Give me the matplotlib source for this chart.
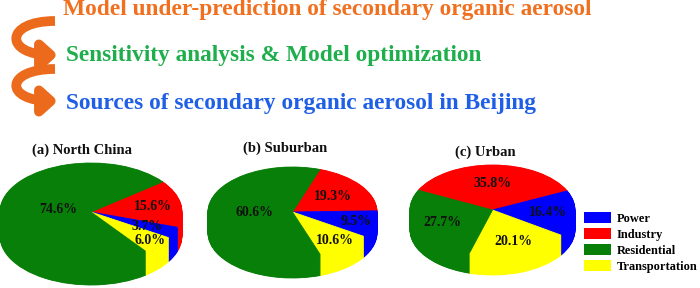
import matplotlib
matplotlib.use("Agg")
import matplotlib.pyplot as plt
from matplotlib.patches import FancyArrowPatch, Patch
from matplotlib.path import Path
import numpy as np

# ---------------- data ----------------
sectors = ["Industry", "Power", "Transportation", "Residential"]
sector_colors = ["#ff0000", "#0000ff", "#ffff00", "#087f08"]
legend_order = ["Power", "Industry", "Residential", "Transportation"]

panel_titles = ["(a) North China", "(b) Suburban", "(c) Urban"]
north_china = [15.6, 3.7, 6.0, 74.6]
suburban = [19.3, 9.5, 10.6, 60.6]
urban = [35.8, 16.4, 20.1, 27.7]

headlines = ["Model under-prediction of secondary organic aerosol",
             "Sensitivity analysis & Model optimization",
             "Sources of secondary organic aerosol in Beijing"]
headline_colors = ["#f07020", "#1fae4c", "#1f5fe6"]

# ---------------- layout ----------------
W, H = 700, 288
fig = plt.figure(figsize=(W / 100, H / 100), dpi=100)
fig.patch.set_facecolor("white")
SERIF = ["Liberation Serif", "DejaVu Serif"]

# overlay axes in pixel coordinates for header & arrows
ov = fig.add_axes([0, 0, 1, 1])
ov.set_xlim(0, W)
ov.set_ylim(H, 0)
ov.axis("off")

head_y = [10, 56, 104]
head_x = [63, 66, 66]
for txt, c, x, y in zip(headlines, headline_colors, head_x, head_y):
    ov.text(x, y, txt, color=c, fontsize=16.8, fontweight="bold",
            family=SERIF, va="center", ha="left")

arrow_color = "#ec6a1c"
for y0, y1 in [(21, 55), (69, 101)]:
    verts = [(55, y0), (4, y0), (4, y1), (58, y1)]
    codes = [Path.MOVETO, Path.CURVE4, Path.CURVE4, Path.CURVE4]
    arr = FancyArrowPatch(path=Path(verts, codes),
                          arrowstyle="-|>,head_length=0.5,head_width=0.45",
                          mutation_scale=17, lw=7, color=arrow_color,
                          capstyle="butt")
    ov.add_patch(arr)

# ---------------- pies ----------------
specs = [
    # cx, cy, rx, ry, depth, startangle, label radial factors, title xy
    (91, 212, 91, 49, 24, 38, [0.69, 0.68, 0.87, 0.36], (32, 150)),
    (292.5, 212, 84.5, 45, 21, 71, [0.60, 0.78, 0.82, 0.45], (243, 148)),
    (492.5, 210, 82.5, 45, 20, 154, [0.60, 0.67, 0.75, 0.66], (455, 152)),
]
datasets = [north_china, suburban, urban]

for vals, title, (cx, cy, rx, ry, depth, start, rfac, txy) in zip(datasets, panel_titles, specs):
    left = cx - rx
    top = cy - ry
    hgt = 2 * ry + depth
    ax = fig.add_axes([left / W, (H - (top + hgt)) / H, 2 * rx / W, hgt / H])
    d = depth / ry
    nlayers = 40
    for k in range(nlayers):
        off = -d * (1 - k / (nlayers - 1))
        wedges, _ = ax.pie(vals, colors=sector_colors, startangle=start,
                           counterclock=False, center=(0, off), radius=1,
                           wedgeprops=dict(linewidth=0.6))
        for w, c in zip(wedges, sector_colors):
            w.set_edgecolor(c)
    ax.set_aspect("auto")
    ax.set_xlim(-1, 1)
    ax.set_ylim(-1 - d, 1)
    ax.axis("off")
    for w, v, r in zip(wedges, vals, rfac):
        th = np.deg2rad((w.theta1 + w.theta2) / 2)
        ax.text(r * np.cos(th), r * np.sin(th), f"{v:.1f}%", ha="center",
                va="center", fontsize=10, fontweight="bold", family=SERIF,
                color="#111111")
    ov.text(txy[0], txy[1], title, fontsize=10.5, fontweight="bold",
            family=SERIF, va="center", ha="left", color="#111111")

handles = [Patch(facecolor=sector_colors[sectors.index(s)], edgecolor="none", label=s)
           for s in legend_order]
fig.legend(handles=handles, loc="upper left", bbox_to_anchor=(584 / W, 1 - 212 / H),
           frameon=False, prop=dict(family=SERIF, weight="bold", size=8.9),
           handlelength=2.15, handleheight=1.0, handletextpad=0.5,
           labelspacing=0.26, borderpad=0, borderaxespad=0)

fig.savefig("out.png", dpi=100, facecolor="white")
